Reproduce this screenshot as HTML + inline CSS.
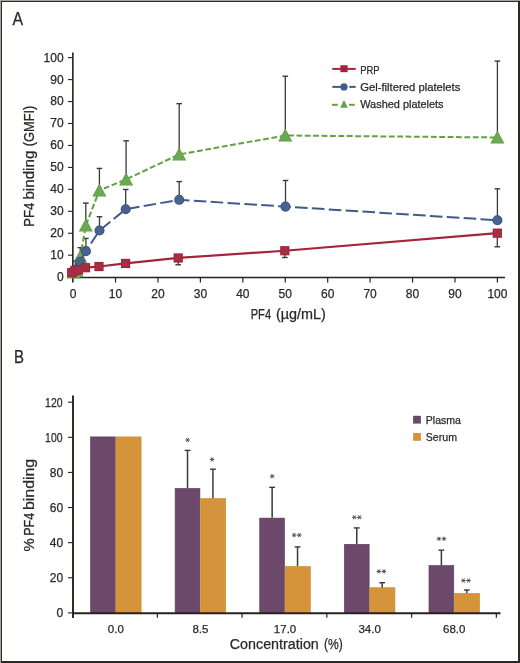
<!DOCTYPE html>
<html><head><meta charset="utf-8"><style>
html,body{margin:0;padding:0;background:#fff;}
svg{display:block;will-change:transform;}
text{font-family:"Liberation Sans", sans-serif;stroke:#2b2926;stroke-width:0.25px;}
</style></head><body>
<svg width="520" height="663" viewBox="0 0 520 663">
<rect x="0" y="0" width="520" height="663" fill="#ffffff"/>
<rect x="0" y="0" width="520" height="1" fill="#a3a59f"/>
<rect x="0" y="0" width="1" height="663" fill="#a3a59f"/>
<rect x="1" y="1" width="519" height="1" fill="#2b2b25"/>
<rect x="1" y="1" width="1" height="662" fill="#2b2b25"/>
<rect x="518" y="1" width="2" height="662" fill="#2b2b25"/>
<rect x="1" y="661" width="519" height="2" fill="#2b2b25"/>
<g fill="#2b2926">
<text x="12.60" y="24.50" font-size="18" text-anchor="start" textLength="10.6" lengthAdjust="spacingAndGlyphs">A</text>
</g>
<g stroke="#24231d" stroke-width="1.35" fill="none">
<line x1="72.85" y1="52.6" x2="72.85" y2="282.6" stroke-width="1.6"/>
<line x1="72.3" y1="277.45" x2="505" y2="277.45" stroke-width="1.5"/>
<line x1="68" y1="277.15" x2="73" y2="277.15" stroke-width="1.1"/>
<line x1="68" y1="255.20" x2="73" y2="255.20" stroke-width="1.1"/>
<line x1="68" y1="233.25" x2="73" y2="233.25" stroke-width="1.1"/>
<line x1="68" y1="211.30" x2="73" y2="211.30" stroke-width="1.1"/>
<line x1="68" y1="189.35" x2="73" y2="189.35" stroke-width="1.1"/>
<line x1="68" y1="167.40" x2="73" y2="167.40" stroke-width="1.1"/>
<line x1="68" y1="145.45" x2="73" y2="145.45" stroke-width="1.1"/>
<line x1="68" y1="123.50" x2="73" y2="123.50" stroke-width="1.1"/>
<line x1="68" y1="101.55" x2="73" y2="101.55" stroke-width="1.1"/>
<line x1="68" y1="79.60" x2="73" y2="79.60" stroke-width="1.1"/>
<line x1="68" y1="57.65" x2="73" y2="57.65" stroke-width="1.1"/>
<line x1="115.53" y1="277" x2="115.53" y2="282.5" stroke-width="1.2"/>
<line x1="157.96" y1="277" x2="157.96" y2="282.5" stroke-width="1.2"/>
<line x1="200.39" y1="277" x2="200.39" y2="282.5" stroke-width="1.2"/>
<line x1="242.82" y1="277" x2="242.82" y2="282.5" stroke-width="1.2"/>
<line x1="285.25" y1="277" x2="285.25" y2="282.5" stroke-width="1.2"/>
<line x1="327.68" y1="277" x2="327.68" y2="282.5" stroke-width="1.2"/>
<line x1="370.11" y1="277" x2="370.11" y2="282.5" stroke-width="1.2"/>
<line x1="412.54" y1="277" x2="412.54" y2="282.5" stroke-width="1.2"/>
<line x1="454.97" y1="277" x2="454.97" y2="282.5" stroke-width="1.2"/>
<line x1="497.40" y1="277" x2="497.40" y2="282.5" stroke-width="1.2"/>
</g>
<g fill="#2b2926">
<text x="63.60" y="281.05" font-size="12" text-anchor="end">0</text>
<text x="63.60" y="259.10" font-size="12" text-anchor="end">10</text>
<text x="63.60" y="237.15" font-size="12" text-anchor="end">20</text>
<text x="63.60" y="215.20" font-size="12" text-anchor="end">30</text>
<text x="63.60" y="193.25" font-size="12" text-anchor="end">40</text>
<text x="63.60" y="171.30" font-size="12" text-anchor="end">50</text>
<text x="63.60" y="149.35" font-size="12" text-anchor="end">60</text>
<text x="63.60" y="127.40" font-size="12" text-anchor="end">70</text>
<text x="63.60" y="105.45" font-size="12" text-anchor="end">80</text>
<text x="63.60" y="83.50" font-size="12" text-anchor="end">90</text>
<text x="63.60" y="61.55" font-size="12" text-anchor="end">100</text>
<text x="73.10" y="297.90" font-size="12" text-anchor="middle">0</text>
<text x="115.53" y="297.90" font-size="12" text-anchor="middle">10</text>
<text x="157.96" y="297.90" font-size="12" text-anchor="middle">20</text>
<text x="200.39" y="297.90" font-size="12" text-anchor="middle">30</text>
<text x="242.82" y="297.90" font-size="12" text-anchor="middle">40</text>
<text x="285.25" y="297.90" font-size="12" text-anchor="middle">50</text>
<text x="327.68" y="297.90" font-size="12" text-anchor="middle">60</text>
<text x="370.11" y="297.90" font-size="12" text-anchor="middle">70</text>
<text x="412.54" y="297.90" font-size="12" text-anchor="middle">80</text>
<text x="454.97" y="297.90" font-size="12" text-anchor="middle">90</text>
<text x="497.40" y="297.90" font-size="12" text-anchor="middle">100</text>
<text x="250.70" y="319.10" font-size="14" textLength="20.40" lengthAdjust="spacingAndGlyphs">PF4</text>
<text x="276.00" y="319.10" font-size="14" textLength="49.91" lengthAdjust="spacingAndGlyphs">(µg/mL)</text>
<text transform="translate(33.60,226.80) rotate(-90)" x="0" y="0" font-size="14" textLength="24.20" lengthAdjust="spacingAndGlyphs">PF4</text>
<text transform="translate(33.60,199.60) rotate(-90)" x="0" y="0" font-size="14" textLength="49.00" lengthAdjust="spacingAndGlyphs">binding</text>
<text transform="translate(33.60,146.20) rotate(-90)" x="0" y="0" font-size="14" textLength="40.59" lengthAdjust="spacingAndGlyphs">(GMFI)</text>
<text x="360.20" y="73.50" font-size="11" text-anchor="start" textLength="19.4" lengthAdjust="spacingAndGlyphs">PRP</text>
<text x="360.20" y="91.10" font-size="11" text-anchor="start" textLength="100.2" lengthAdjust="spacingAndGlyphs">Gel-filtered platelets</text>
<text x="360.20" y="107.50" font-size="11" text-anchor="start" textLength="83.4" lengthAdjust="spacingAndGlyphs">Washed platelets</text>
</g>
<g stroke="#3a3a37">
<line x1="80.30" y1="256.66" x2="80.30" y2="247.66" stroke-width="1.3"/><line x1="77.50" y1="247.66" x2="83.10" y2="247.66" stroke-width="1.4"/>
<line x1="85.80" y1="225.49" x2="85.80" y2="203.10" stroke-width="1.3"/><line x1="83.00" y1="203.10" x2="88.60" y2="203.10" stroke-width="1.4"/>
<line x1="99.40" y1="190.37" x2="99.40" y2="168.42" stroke-width="1.3"/><line x1="96.60" y1="168.42" x2="102.20" y2="168.42" stroke-width="1.4"/>
<line x1="126.10" y1="179.39" x2="126.10" y2="140.76" stroke-width="1.3"/><line x1="123.30" y1="140.76" x2="128.90" y2="140.76" stroke-width="1.4"/>
<line x1="179.20" y1="154.37" x2="179.20" y2="103.66" stroke-width="1.3"/><line x1="176.40" y1="103.66" x2="182.00" y2="103.66" stroke-width="1.4"/>
<line x1="285.30" y1="135.49" x2="285.30" y2="76.23" stroke-width="1.3"/><line x1="282.50" y1="76.23" x2="288.10" y2="76.23" stroke-width="1.4"/>
<line x1="497.40" y1="137.47" x2="497.40" y2="61.08" stroke-width="1.3"/><line x1="494.60" y1="61.08" x2="500.20" y2="61.08" stroke-width="1.4"/>
<line x1="75.30" y1="270.27" x2="75.30" y2="260.83" stroke-width="1.3"/><line x1="72.50" y1="260.83" x2="78.10" y2="260.83" stroke-width="1.4"/>
<line x1="85.90" y1="251.17" x2="85.90" y2="238.44" stroke-width="1.3"/><line x1="83.10" y1="238.44" x2="88.70" y2="238.44" stroke-width="1.4"/>
<line x1="99.50" y1="230.54" x2="99.50" y2="216.71" stroke-width="1.3"/><line x1="96.70" y1="216.71" x2="102.30" y2="216.71" stroke-width="1.4"/>
<line x1="125.70" y1="209.24" x2="125.70" y2="189.49" stroke-width="1.3"/><line x1="122.90" y1="189.49" x2="128.50" y2="189.49" stroke-width="1.4"/>
<line x1="179.20" y1="199.81" x2="179.20" y2="181.59" stroke-width="1.3"/><line x1="176.40" y1="181.59" x2="182.00" y2="181.59" stroke-width="1.4"/>
<line x1="285.50" y1="206.61" x2="285.50" y2="180.49" stroke-width="1.3"/><line x1="282.70" y1="180.49" x2="288.30" y2="180.49" stroke-width="1.4"/>
<line x1="497.40" y1="220.22" x2="497.40" y2="188.83" stroke-width="1.3"/><line x1="494.60" y1="188.83" x2="500.20" y2="188.83" stroke-width="1.4"/>
<line x1="178.20" y1="257.97" x2="178.20" y2="264.78" stroke-width="1.3"/><line x1="175.40" y1="264.78" x2="181.00" y2="264.78" stroke-width="1.4"/>
<line x1="284.80" y1="250.73" x2="284.80" y2="257.53" stroke-width="1.3"/><line x1="282.00" y1="257.53" x2="287.60" y2="257.53" stroke-width="1.4"/>
<line x1="497.30" y1="233.17" x2="497.30" y2="246.78" stroke-width="1.3"/><line x1="494.50" y1="246.78" x2="500.10" y2="246.78" stroke-width="1.4"/>
</g>
<polyline points="73.50,272.46 76.50,271.14 80.30,256.66 85.80,225.49 99.40,190.37 126.10,179.39 179.20,154.37 285.30,135.49 497.40,137.47" fill="none" stroke="#63a244" stroke-width="2" stroke-dasharray="5.8 2.6"/>
<path d="M73.50,267.16 L79.20,277.76 L67.80,277.76ZM76.50,265.84 L82.20,276.44 L70.80,276.44ZM80.30,251.36 L86.00,261.96 L74.60,261.96ZM85.80,220.19 L91.50,230.79 L80.10,230.79ZM99.40,185.07 L105.10,195.67 L93.70,195.67ZM126.10,174.09 L131.80,184.69 L120.40,184.69ZM179.20,149.07 L184.90,159.67 L173.50,159.67ZM285.30,130.19 L291.00,140.79 L279.60,140.79ZM497.40,132.17 L503.10,142.77 L491.70,142.77Z" fill="none" stroke="#5f9e46" stroke-width="1.6" stroke-linejoin="miter"/>
<path d="M73.50,267.16 L79.20,277.76 L67.80,277.76ZM76.50,265.84 L82.20,276.44 L70.80,276.44ZM80.30,251.36 L86.00,261.96 L74.60,261.96ZM85.80,220.19 L91.50,230.79 L80.10,230.79ZM99.40,185.07 L105.10,195.67 L93.70,195.67ZM126.10,174.09 L131.80,184.69 L120.40,184.69ZM179.20,149.07 L184.90,159.67 L173.50,159.67ZM285.30,130.19 L291.00,140.79 L279.60,140.79ZM497.40,132.17 L503.10,142.77 L491.70,142.77Z" fill="#6ba852"/>
<polyline points="73.50,272.46 75.30,270.27 80.00,261.70 85.90,251.17 99.50,230.54 125.70,209.24 179.20,199.81 285.50,206.61 497.40,220.22" fill="none" stroke="#3f5b8b" stroke-width="2" stroke-dasharray="12.6 4.3"/>
<g fill="none" stroke="#36517f" stroke-width="1.6"><circle cx="73.50" cy="272.46" r="4.25"/><circle cx="75.30" cy="270.27" r="4.25"/><circle cx="80.00" cy="261.70" r="4.25"/><circle cx="85.90" cy="251.17" r="4.25"/><circle cx="99.50" cy="230.54" r="4.25"/><circle cx="125.70" cy="209.24" r="4.25"/><circle cx="179.20" cy="199.81" r="4.25"/><circle cx="285.50" cy="206.61" r="4.25"/><circle cx="497.40" cy="220.22" r="4.25"/></g>
<g fill="#4a6290"><circle cx="73.50" cy="272.46" r="4.25"/><circle cx="75.30" cy="270.27" r="4.25"/><circle cx="80.00" cy="261.70" r="4.25"/><circle cx="85.90" cy="251.17" r="4.25"/><circle cx="99.50" cy="230.54" r="4.25"/><circle cx="125.70" cy="209.24" r="4.25"/><circle cx="179.20" cy="199.81" r="4.25"/><circle cx="285.50" cy="206.61" r="4.25"/><circle cx="497.40" cy="220.22" r="4.25"/></g>
<polyline points="71.70,272.59 74.80,270.40 78.50,270.05 85.50,267.70 99.00,266.53 125.60,263.46 178.20,257.97 284.80,250.73 497.30,233.17" fill="none" stroke="#a4243b" stroke-width="2.2"/>
<g fill="none" stroke="#9d1d35" stroke-width="1.6"><rect x="67.90" y="268.79" width="7.6" height="7.6"/><rect x="71.00" y="266.60" width="7.6" height="7.6"/><rect x="74.70" y="266.25" width="7.6" height="7.6"/><rect x="81.70" y="263.90" width="7.6" height="7.6"/><rect x="95.20" y="262.73" width="7.6" height="7.6"/><rect x="121.80" y="259.66" width="7.6" height="7.6"/><rect x="174.40" y="254.17" width="7.6" height="7.6"/><rect x="281.00" y="246.93" width="7.6" height="7.6"/><rect x="493.50" y="229.37" width="7.6" height="7.6"/></g>
<g fill="#a52f42"><rect x="67.90" y="268.79" width="7.6" height="7.6"/><rect x="71.00" y="266.60" width="7.6" height="7.6"/><rect x="74.70" y="266.25" width="7.6" height="7.6"/><rect x="81.70" y="263.90" width="7.6" height="7.6"/><rect x="95.20" y="262.73" width="7.6" height="7.6"/><rect x="121.80" y="259.66" width="7.6" height="7.6"/><rect x="174.40" y="254.17" width="7.6" height="7.6"/><rect x="281.00" y="246.93" width="7.6" height="7.6"/><rect x="493.50" y="229.37" width="7.6" height="7.6"/></g>
<line x1="332.3" y1="68.9" x2="355.7" y2="68.9" stroke="#a4243b" stroke-width="2"/>
<rect x="340.4" y="65.2" width="7.2" height="7" fill="#a4243b"/>
<line x1="332.3" y1="86.9" x2="341" y2="86.9" stroke="#3f5b8b" stroke-width="2"/>
<line x1="349.3" y1="86.9" x2="355.7" y2="86.9" stroke="#3f5b8b" stroke-width="2"/>
<circle cx="344" cy="86.9" r="3.6" fill="#3f5b8b"/>
<line x1="332" y1="104.8" x2="337.8" y2="104.8" stroke="#63a244" stroke-width="2"/>
<line x1="349" y1="104.8" x2="354.8" y2="104.8" stroke="#63a244" stroke-width="2"/>
<path d="M344,100.1 L347.8,107.7 L340.2,107.7Z" fill="#63a244"/>
<g fill="#2b2926">
<text x="14.00" y="362.70" font-size="18" text-anchor="start" textLength="10.0" lengthAdjust="spacingAndGlyphs">B</text>
</g>
<rect x="90.50" y="436.90" width="24.80" height="176.50" fill="#6c496b" stroke="#5d3a5c" stroke-width="0.6"/>
<rect x="115.90" y="436.90" width="25.20" height="176.50" fill="#d5943c" stroke="#cc8a30" stroke-width="0.6"/>
<rect x="175.12" y="488.40" width="24.80" height="125.00" fill="#6c496b" stroke="#5d3a5c" stroke-width="0.6"/>
<rect x="200.52" y="498.50" width="25.20" height="114.90" fill="#d5943c" stroke="#cc8a30" stroke-width="0.6"/>
<rect x="259.74" y="518.10" width="24.80" height="95.30" fill="#6c496b" stroke="#5d3a5c" stroke-width="0.6"/>
<rect x="285.14" y="566.40" width="25.20" height="47.00" fill="#d5943c" stroke="#cc8a30" stroke-width="0.6"/>
<rect x="344.36" y="544.30" width="24.80" height="69.10" fill="#6c496b" stroke="#5d3a5c" stroke-width="0.6"/>
<rect x="369.76" y="587.70" width="25.20" height="25.70" fill="#d5943c" stroke="#cc8a30" stroke-width="0.6"/>
<rect x="428.98" y="565.50" width="24.80" height="47.90" fill="#6c496b" stroke="#5d3a5c" stroke-width="0.6"/>
<rect x="454.38" y="593.40" width="25.20" height="20.00" fill="#d5943c" stroke="#cc8a30" stroke-width="0.6"/>
<g stroke="#3a3a37">
<line x1="187.52" y1="488.10" x2="187.52" y2="450.40" stroke-width="1.5"/><line x1="184.62" y1="450.40" x2="190.42" y2="450.40" stroke-width="1.4"/>
<line x1="212.92" y1="498.20" x2="212.92" y2="469.20" stroke-width="1.5"/><line x1="210.02" y1="469.20" x2="215.82" y2="469.20" stroke-width="1.4"/>
<line x1="272.14" y1="517.80" x2="272.14" y2="487.30" stroke-width="1.5"/><line x1="269.24" y1="487.30" x2="275.04" y2="487.30" stroke-width="1.4"/>
<line x1="297.54" y1="566.10" x2="297.54" y2="546.90" stroke-width="1.5"/><line x1="294.64" y1="546.90" x2="300.44" y2="546.90" stroke-width="1.4"/>
<line x1="356.76" y1="544.00" x2="356.76" y2="527.90" stroke-width="1.5"/><line x1="353.86" y1="527.90" x2="359.66" y2="527.90" stroke-width="1.4"/>
<line x1="382.16" y1="587.40" x2="382.16" y2="582.70" stroke-width="1.5"/><line x1="379.26" y1="582.70" x2="385.06" y2="582.70" stroke-width="1.4"/>
<line x1="441.38" y1="565.20" x2="441.38" y2="550.20" stroke-width="1.5"/><line x1="438.48" y1="550.20" x2="444.28" y2="550.20" stroke-width="1.4"/>
<line x1="466.78" y1="593.10" x2="466.78" y2="590.00" stroke-width="1.5"/><line x1="463.88" y1="590.00" x2="469.68" y2="590.00" stroke-width="1.4"/>
</g>
<path d="M185.32,440.00L189.92,440.00M186.47,438.01L188.77,441.99M188.77,438.01L186.47,441.99M209.82,459.40L214.42,459.40M210.97,457.41L213.27,461.39M213.27,457.41L210.97,461.39M269.94,476.20L274.54,476.20M271.09,474.21L273.39,478.19M273.39,474.21L271.09,478.19M291.89,535.10L296.49,535.10M293.04,533.11L295.34,537.09M295.34,533.11L293.04,537.09M296.99,535.10L301.59,535.10M298.14,533.11L300.44,537.09M300.44,533.11L298.14,537.09M352.01,517.30L356.61,517.30M353.16,515.31L355.46,519.29M355.46,515.31L353.16,519.29M357.11,517.30L361.71,517.30M358.26,515.31L360.56,519.29M360.56,515.31L358.26,519.29M376.51,571.40L381.11,571.40M377.66,569.41L379.96,573.39M379.96,569.41L377.66,573.39M381.61,571.40L386.21,571.40M382.76,569.41L385.06,573.39M385.06,569.41L382.76,573.39M436.63,538.80L441.23,538.80M437.78,536.81L440.08,540.79M440.08,536.81L437.78,540.79M441.73,538.80L446.33,538.80M442.88,536.81L445.18,540.79M445.18,536.81L442.88,540.79M461.13,580.60L465.73,580.60M462.28,578.61L464.58,582.59M464.58,578.61L462.28,582.59M466.23,580.60L470.83,580.60M467.38,578.61L469.68,582.59M469.68,578.61L467.38,582.59" stroke="#4a4a48" stroke-width="0.95" fill="none"/>
<g stroke="#24231d" stroke-width="1.4" fill="none">
<line x1="73.0" y1="395.6" x2="73.0" y2="618" stroke-width="1.9"/>
<line x1="72.3" y1="613.25" x2="500.5" y2="613.25" stroke-width="1.8"/>
<line x1="68" y1="612.90" x2="73" y2="612.90" stroke-width="1.1"/>
<line x1="68" y1="577.78" x2="73" y2="577.78" stroke-width="1.1"/>
<line x1="68" y1="542.66" x2="73" y2="542.66" stroke-width="1.1"/>
<line x1="68" y1="507.54" x2="73" y2="507.54" stroke-width="1.1"/>
<line x1="68" y1="472.42" x2="73" y2="472.42" stroke-width="1.1"/>
<line x1="68" y1="437.30" x2="73" y2="437.30" stroke-width="1.1"/>
<line x1="68" y1="402.18" x2="73" y2="402.18" stroke-width="1.1"/>
<line x1="157.35" y1="613" x2="157.35" y2="617.8" stroke-width="1.2"/>
<line x1="242.10" y1="613" x2="242.10" y2="617.8" stroke-width="1.2"/>
<line x1="326.85" y1="613" x2="326.85" y2="617.8" stroke-width="1.2"/>
<line x1="411.60" y1="613" x2="411.60" y2="617.8" stroke-width="1.2"/>
<line x1="496.35" y1="613" x2="496.35" y2="617.8" stroke-width="1.2"/>
</g>
<g fill="#2b2926">
<text x="63.10" y="617.20" font-size="12" text-anchor="end">0</text>
<text x="63.10" y="582.08" font-size="12" text-anchor="end">20</text>
<text x="63.10" y="546.96" font-size="12" text-anchor="end">40</text>
<text x="63.10" y="511.84" font-size="12" text-anchor="end">60</text>
<text x="63.10" y="476.72" font-size="12" text-anchor="end">80</text>
<text x="45.10" y="441.70" font-size="12" textLength="17.40" lengthAdjust="spacingAndGlyphs">100</text>
<text x="45.10" y="406.58" font-size="12" textLength="17.40" lengthAdjust="spacingAndGlyphs">120</text>
<text x="115.80" y="633.00" font-size="11.5" text-anchor="middle">0.0</text>
<text x="200.42" y="633.00" font-size="11.5" text-anchor="middle">8.5</text>
<text x="285.04" y="633.00" font-size="11.5" text-anchor="middle">17.0</text>
<text x="369.66" y="633.00" font-size="11.5" text-anchor="middle">34.0</text>
<text x="454.28" y="633.00" font-size="11.5" text-anchor="middle">68.0</text>
<text x="229.80" y="648.90" font-size="14" textLength="89.00" lengthAdjust="spacingAndGlyphs">Concentration</text>
<text x="324.00" y="648.90" font-size="14" textLength="18.80" lengthAdjust="spacingAndGlyphs">(%)</text>
<text transform="translate(33.80,551.40) rotate(-90)" x="0" y="0" font-size="14" textLength="13.20" lengthAdjust="spacingAndGlyphs">%</text>
<text transform="translate(33.80,535.80) rotate(-90)" x="0" y="0" font-size="14" textLength="23.00" lengthAdjust="spacingAndGlyphs">PF4</text>
<text transform="translate(33.80,510.00) rotate(-90)" x="0" y="0" font-size="14" textLength="51.20" lengthAdjust="spacingAndGlyphs">binding</text>
<text x="425.80" y="423.70" font-size="11" text-anchor="start" textLength="35.2" lengthAdjust="spacingAndGlyphs">Plasma</text>
<text x="425.80" y="441.20" font-size="11" text-anchor="start" textLength="31.2" lengthAdjust="spacingAndGlyphs">Serum</text>
</g>
<rect x="413.1" y="415.8" width="7.8" height="7.8" fill="#6c496b"/>
<rect x="413.1" y="433" width="7.8" height="7.8" fill="#d5943c"/>
</svg>
</body></html>
